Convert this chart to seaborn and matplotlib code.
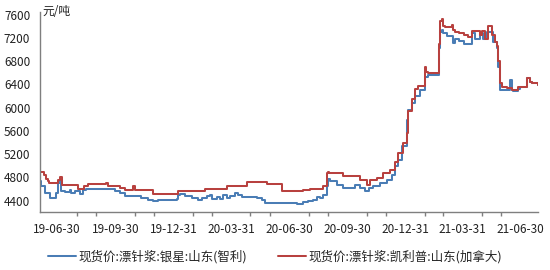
import matplotlib
matplotlib.use("Agg")
import matplotlib.pyplot as plt
import matplotlib.dates as mdates
from matplotlib.ticker import FixedLocator
import seaborn as sns
import pandas as pd

# ---- data (step breakpoints: start date, value) ----
silver_dates = [
    "2019-06-03", "2019-06-04", "2019-06-11", "2019-06-19", "2019-06-28", "2019-07-01",
    "2019-07-04", "2019-07-06", "2019-07-12", "2019-07-20", "2019-07-22", "2019-07-28",
    "2019-08-05", "2019-08-10", "2019-08-14", "2019-09-29", "2019-10-07", "2019-10-15",
    "2019-11-09", "2019-11-20", "2019-11-28", "2019-12-06", "2019-12-20", "2020-01-05",
    "2020-01-07", "2020-01-10", "2020-01-18", "2020-01-29", "2020-02-07", "2020-02-13",
    "2020-02-21", "2020-02-26", "2020-02-29", "2020-03-08", "2020-03-13", "2020-03-18",
    "2020-03-24", "2020-03-29", "2020-04-06", "2020-04-11", "2020-04-17", "2020-05-10",
    "2020-05-18", "2020-05-23", "2020-07-12", "2020-07-22", "2020-07-30", "2020-08-07",
    "2020-08-13", "2020-08-18", "2020-08-23", "2020-08-29", "2020-08-31", "2020-09-03",
    "2020-09-14", "2020-09-23", "2020-10-12", "2020-10-20", "2020-10-28", "2020-11-03",
    "2020-11-09", "2020-11-21", "2020-12-02", "2020-12-10", "2020-12-14", "2020-12-19",
    "2020-12-25", "2021-01-02", "2021-01-04", "2021-01-10", "2021-01-15", "2021-01-23",
    "2021-01-31", "2021-02-05", "2021-02-21", "2021-02-23", "2021-02-26", "2021-02-28",
    "2021-03-06", "2021-03-16", "2021-03-19", "2021-03-26", "2021-04-02", "2021-04-15",
    "2021-04-20", "2021-04-28", "2021-05-02", "2021-05-09", "2021-05-18", "2021-05-24",
    "2021-05-26", "2021-05-29", "2021-06-14", "2021-06-17", "2021-06-19", "2021-06-26",
    "2021-06-30", "2021-07-11", "2021-07-16", "2021-07-19", "2021-07-28",
]
silver_values = [
    4732, 4658, 4532, 4446, 4532, 4700,
    4773, 4560, 4543, 4589, 4532, 4560,
    4520, 4577, 4601, 4560, 4532, 4486,
    4446, 4417, 4388, 4417, 4405, 4429,
    4503, 4520, 4486, 4446, 4405, 4446,
    4474, 4503, 4429, 4455, 4429, 4503,
    4446, 4474, 4532, 4503, 4463, 4446,
    4417, 4360, 4348, 4371, 4388, 4417,
    4463, 4440, 4503, 4646, 4773, 4732,
    4675, 4618, 4675, 4618, 4560, 4618,
    4646, 4704, 4761, 4847, 4990, 5104,
    5334, 5796, 5964, 6079, 6194, 6308,
    6533, 6562, 7022, 7307, 7337, 7280,
    7232, 7108, 7190, 7140, 7090, 7280,
    7177, 7280, 7177, 7300, 7136, 7022,
    6706, 6308, 6477, 6300, 6280, 6320,
    6350, 6506, 6450, 6420, 6390,
]

canfor_dates = [
    "2019-06-03", "2019-06-10", "2019-06-12", "2019-06-15", "2019-06-17", "2019-07-01",
    "2019-07-05", "2019-07-07", "2019-08-02", "2019-08-12", "2019-08-17", "2019-09-15",
    "2019-09-18", "2019-10-07", "2019-10-15", "2019-10-28", "2019-10-31", "2019-11-28",
    "2020-01-07", "2020-02-18", "2020-03-24", "2020-04-25", "2020-05-26", "2020-06-19",
    "2020-07-22", "2020-08-02", "2020-08-23", "2020-08-29", "2020-08-31", "2020-09-01",
    "2020-09-23", "2020-10-20", "2020-10-31", "2020-11-05", "2020-11-16", "2020-11-25",
    "2020-12-07", "2020-12-14", "2020-12-19", "2020-12-27", "2021-01-02", "2021-01-04",
    "2021-01-10", "2021-01-15", "2021-01-20", "2021-01-31", "2021-02-02", "2021-02-05",
    "2021-02-21", "2021-02-23", "2021-02-26", "2021-02-28", "2021-03-03", "2021-03-14",
    "2021-03-16", "2021-03-19", "2021-03-26", "2021-04-02", "2021-04-08", "2021-04-15",
    "2021-04-28", "2021-05-01", "2021-05-05", "2021-05-10", "2021-05-16", "2021-05-21",
    "2021-05-24", "2021-05-26", "2021-05-29", "2021-06-01", "2021-06-09", "2021-06-17",
    "2021-06-26", "2021-07-11", "2021-07-16", "2021-07-19", "2021-07-28",
]
canfor_values = [
    4900, 4840, 4770, 4730, 4700, 4760,
    4810, 4670, 4600, 4660, 4690, 4700,
    4660, 4620, 4590, 4660, 4580, 4515,
    4560, 4600, 4646, 4715, 4680, 4560,
    4590, 4606, 4646, 4876, 4900, 4880,
    4820, 4760, 4675, 4750, 4790, 4876,
    4933, 5072, 5220, 5392, 5560, 5950,
    6150, 6320, 6380, 6700, 6620, 6590,
    7100, 7500, 7520, 7400, 7380, 7420,
    7340, 7310, 7280, 7250, 7220, 7320,
    7250, 7320, 7177, 7410, 7250, 7136,
    7070, 6800, 6420, 6363, 6340, 6308,
    6350, 6506, 6450, 6420, 6390,
]

series_names = ["现货价:漂针浆:银星:山东(智利)", "现货价:漂针浆:凯利普:山东(加拿大)"]
series_colors = ["#4A7DB5", "#B8413F"]
y_ticks = [4400, 4800, 5200, 5600, 6000, 6400, 6800, 7200, 7600]
x_major = ["2019-06-30", "2019-09-30", "2019-12-31", "2020-03-31", "2020-06-30",
           "2020-09-30", "2020-12-31", "2021-03-31", "2021-06-30"]
unit_label = "元/吨"

df = pd.concat([
    pd.DataFrame({"date": pd.to_datetime(silver_dates), "value": silver_values,
                  "series": series_names[0]}),
    pd.DataFrame({"date": pd.to_datetime(canfor_dates), "value": canfor_values,
                  "series": series_names[1]}),
])

sns.set_theme(style="white")
plt.rcParams["font.family"] = ["Noto Sans CJK SC", "DejaVu Sans"]

fig = plt.figure(figsize=(5.5, 2.7), dpi=100)
ax = fig.add_axes([40 / 550, 1 - 212.3 / 270, 498 / 550, (212.3 - 11.8) / 270])

sns.lineplot(data=df, x="date", y="value", hue="series", hue_order=series_names,
             palette=series_colors, drawstyle="steps-post", linewidth=1.45,
             errorbar=None, ax=ax, legend=True)

ax.set_xlim(pd.Timestamp("2019-06-03"), pd.Timestamp("2021-07-28"))
ax.set_ylim(4200, 7650)
ax.set_yticks(y_ticks)
ax.set_yticklabels([str(v) for v in y_ticks])

major_dates = pd.to_datetime(x_major)
ax.xaxis.set_major_locator(FixedLocator(mdates.date2num(major_dates)))
ax.set_xticklabels([d.strftime("%y-%m-%d") for d in major_dates])
month_ends = pd.date_range("2019-06-30", "2021-07-28", freq="ME")
minor = [d for d in month_ends if d not in set(major_dates)]
ax.xaxis.set_minor_locator(FixedLocator(mdates.date2num(minor)))

ax.set_xlabel("")
ax.set_ylabel("")
for s in ["top", "right"]:
    ax.spines[s].set_visible(False)
for s in ["left", "bottom"]:
    ax.spines[s].set_color("#7f7f7f")
    ax.spines[s].set_linewidth(1.0)

ax.tick_params(axis="both", which="major", direction="out", length=5, width=1,
               color="#7f7f7f", labelsize=8.5, labelcolor="#222222")
ax.tick_params(axis="x", which="minor", direction="out", length=3, width=1,
               color="#7f7f7f", bottom=True)
ax.tick_params(axis="y", pad=2)
ax.tick_params(axis="x", pad=3)

ax.text(0.004, 1.0, unit_label, transform=ax.transAxes, ha="left", va="center",
        fontsize=8.5, color="#222222")

handles, labels = ax.get_legend_handles_labels()
ax.get_legend().remove()
fig.legend(handles, labels, loc="center", bbox_to_anchor=(0.5, 1 - 257 / 270),
           ncol=2, frameon=False, fontsize=9, handlelength=2.3, handletextpad=0.2,
           columnspacing=2.4)

fig.savefig("out.png", dpi=100)
